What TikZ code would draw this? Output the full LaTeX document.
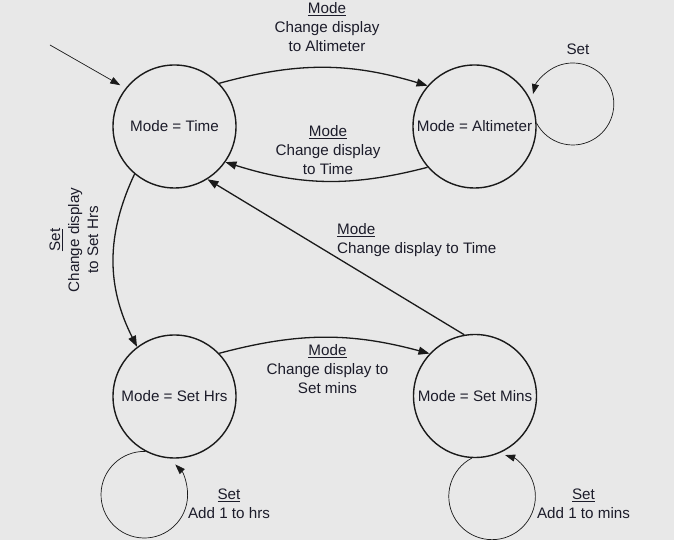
\documentclass[tikz,border=0pt]{standalone}
\usepackage{fontspec}
\setmainfont{Liberation Sans}
\usetikzlibrary{arrows.meta}
\definecolor{bg}{HTML}{E8E8E8}
\definecolor{ink}{HTML}{1A1A1A}
\definecolor{txt}{HTML}{1C1C2A}
\begin{document}
\begin{tikzpicture}[x=1pt,y=1pt,
  state/.style={circle,draw=ink,line width=1.4pt,minimum size=123pt,inner sep=0pt,
    font=\fontsize{15.2}{19}\selectfont,text=txt},
  lbl/.style={align=center,inner sep=0pt,font=\fontsize{15.2}{19}\selectfont,text=txt},
  edge/.style={draw=ink,line width=1.3pt,-{Triangle[length=11pt,width=8pt]}},
  loopedge/.style={draw=ink,line width=0.7pt,-{Triangle[length=10pt,width=7pt]}},
]
\fill[bg] (0,0) rectangle (674,540);
\useasboundingbox (0,0) rectangle (674,540);

\node[state] (t) at (174.5,413.5) {Mode = Time};
\node[state] (a) at (474.5,413.5) {Mode = Altimeter};
\node[state] (h) at (174.5,143.5) {Mode = Set Hrs};
\node[state] (m) at (475,144) {Mode = Set Mins};

\coordinate (init) at (50,495);
\draw[loopedge,shorten >=6pt] (init) -- (t.142);

\draw[edge] (t.44) to[bend left=16] (a.139);
\draw[edge] (a.221) to[bend left=16] (t.325);
\draw[edge] (t.230) to[bend right=26] (h.127);
\draw[edge] (m.100) -- (t.302);
\draw[edge] (h.44) to[bend left=15] (m.137);

\draw[loopedge] (a.3) arc[start angle=208,end angle=526,radius=41];
\draw[loopedge] (h.242) arc[start angle=88.7,end angle=404.4,radius=43.3];
\draw[loopedge] (m.267) arc[start angle=118,end angle=432.5,radius=43.3];

\node[lbl] (lA) at (327,513) {\underline{Mode}\\Change display\\to Altimeter};
\node[lbl] (lB) at (328,389.5) {\underline{Mode}\\Change display\\to Time};
\node[lbl] (lC) at (578,491) {Set};
\node[lbl,align=left,anchor=west] (lD) at (337,300) {\underline{Mode}\\Change display to Time};
\node[lbl,rotate=90] (lE) at (74,300) {\underline{Set}\\Change display\\to Set Hrs};
\node[lbl] (lF) at (327.5,171) {\underline{Mode}\\Change display to\\Set mins};
\node[lbl] (lG) at (229,36.5) {\underline{Set}\\Add 1 to hrs};
\node[lbl] (lH) at (583.5,36.5) {\underline{Set}\\Add 1 to mins};
\end{tikzpicture}
\end{document}
